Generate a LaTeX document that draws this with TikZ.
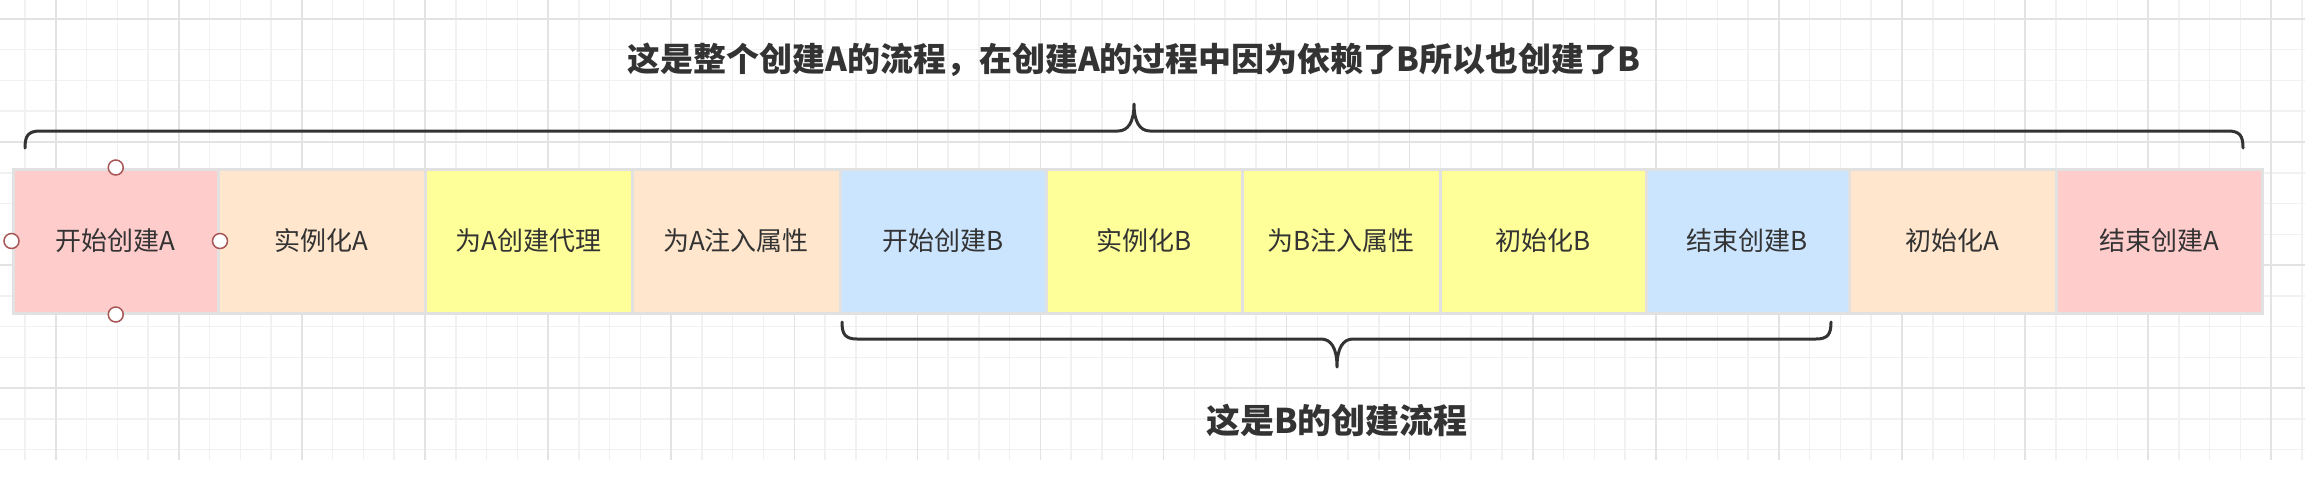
\documentclass[tikz,border=0pt]{standalone}
\usepackage{fontspec}
\newfontfamily\cjk{Noto Sans CJK SC}
\definecolor{gridminor}{HTML}{F1F1F1}
\definecolor{gridmajor}{HTML}{E3E3E3}
\definecolor{boxline}{HTML}{E1E1E1}
\definecolor{cpink}{HTML}{FFCCCC}
\definecolor{cpeach}{HTML}{FFE6CC}
\definecolor{cyellow}{HTML}{FFFF99}
\definecolor{cblue}{HTML}{CCE5FF}
\definecolor{txt}{HTML}{333333}
\definecolor{handlered}{HTML}{A85656}
\definecolor{bracecol}{HTML}{333333}
\begin{document}
\begin{tikzpicture}[x=1pt,y=-1pt,
  box/.style={draw=boxline, line width=3pt, minimum height=144pt, inner sep=0pt,
    font=\cjk\fontsize{26}{30}\selectfont, text=txt},
  handle/.style={circle, draw=handlered, fill=white, line width=1.5pt, minimum size=15pt, inner sep=0pt},
  bracestyle/.style={draw=bracecol, line width=3pt, line cap=round, line join=round},
  titletext/.style={font=\cjk\bfseries\fontsize{33}{40}\selectfont, text=txt, inner sep=0pt},
  subtext/.style={font=\cjk\bfseries\fontsize{34}{40}\selectfont, text=txt, inner sep=0pt},
  gminor/.style={draw=gridminor, line width=1.5pt},
  gmajor/.style={draw=gridmajor, line width=1.5pt}]
\useasboundingbox (0,0) rectangle (2312,483);
\fill[white] (0,0) rectangle (2312,483);
% grid
\begin{scope}
\clip (0,0) rectangle (2305,460);
\foreach \k in {0,...,74}{\draw[gminor] ({25+30.77*\k},0) -- ({25+30.77*\k},460);}
\foreach \j in {-4,...,10}{\draw[gminor] (0,{142+30.77*\j}) -- (2305,{142+30.77*\j});}
\foreach \k in {1,5,...,73}{\draw[gmajor] ({25+30.77*\k},0) -- ({25+30.77*\k},460);}
\foreach \j in {-4,0,4,8}{\draw[gmajor] (0,{142+30.77*\j}) -- (2305,{142+30.77*\j});}
\end{scope}
% boxes
\node[box, fill=cpink,   minimum width=205.5pt] (b1)  at (115.75,241) {开始创建A};
\node[box, fill=cpeach,  minimum width=206.5pt] (b2)  at (321.75,241) {实例化A};
\node[box, fill=cyellow, minimum width=207pt]   (b3)  at (528.5,241)  {为A创建代理};
\node[box, fill=cpeach,  minimum width=208pt]   (b4)  at (736,241)    {为A注入属性};
\node[box, fill=cblue,   minimum width=206pt]   (b5)  at (943,241)    {开始创建B};
\node[box, fill=cyellow, minimum width=196pt]   (b6)  at (1144,241)   {实例化B};
\node[box, fill=cyellow, minimum width=198pt]   (b7)  at (1341,241)   {为B注入属性};
\node[box, fill=cyellow, minimum width=206pt]   (b8)  at (1543,241)   {初始化B};
\node[box, fill=cblue,   minimum width=203pt]   (b9)  at (1747.5,241) {结束创建B};
\node[box, fill=cpeach,  minimum width=207pt]   (b10) at (1952.5,241) {初始化A};
\node[box, fill=cpink,   minimum width=206pt]   (b11) at (2159,241)   {结束创建A};
% selection handles
\node[handle] (hn) at (b1.north) {};
\node[handle] (hs) at (b1.south) {};
\node[handle] (hw) at (b1.west) {};
\node[handle] (he) at (b1.east) {};
% top brace
\coordinate (tl) at (25,148);
\coordinate (tr) at (2243,148);
\coordinate (tt) at (1134,104);
\draw[bracestyle] (tl) .. controls (25,136) and (28,131) .. (40,131) -- (1118,131)
  .. controls (1128,131) and (1134,122) .. (tt)
  .. controls (1134,122) and (1140,131) .. (1150,131) -- (2228,131)
  .. controls (2240,131) and (2243,136) .. (tr);
% bottom brace
\coordinate (bl) at (842,322);
\coordinate (br) at (1831,322);
\coordinate (bt) at (1337,367);
\draw[bracestyle] (bl) .. controls (842,334) and (845,339) .. (857,339) -- (1321,339)
  .. controls (1331,339) and (1337,348) .. (bt)
  .. controls (1337,348) and (1343,339) .. (1353,339) -- (1816,339)
  .. controls (1828,339) and (1831,334) .. (br);
% labels
\node[titletext] (t1) at (1134,60) {这是整个创建A的流程，在创建A的过程中因为依赖了B所以也创建了B};
\node[subtext] (t2) at (1337,420) {这是B的创建流程};
\end{tikzpicture}
\end{document}
